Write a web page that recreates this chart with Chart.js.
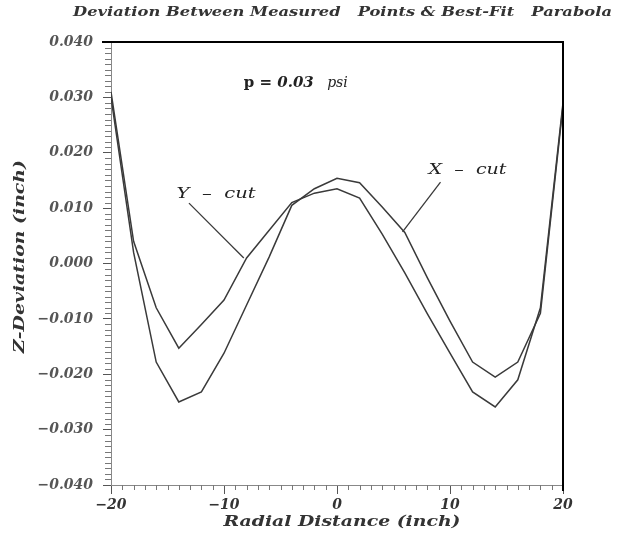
<!DOCTYPE html>
<html>
<head>
<meta charset="utf-8">
<script src="https://cdn.jsdelivr.net/npm/chart.js@4.4.1/dist/chart.umd.min.js"></script>
<style>
  html, body { margin: 0; padding: 0; background: #fff; }
  #wrap { width: 625px; height: 535px; }
</style>
</head>
<body>
<div id="wrap"><canvas id="devChart" width="625" height="535"></canvas></div>
<script>
// z-deviation from best-fit parabola, sampled every 2 inch along the radius
const radialDistance = [-20, -18, -16, -14, -12, -10, -8, -6, -4, -2, 0, 2, 4, 6, 8, 10, 12, 14, 16, 18, 20];
const xCut = [0.0300, 0.0020, -0.0178, -0.0250, -0.0232, -0.0162, -0.0075, 0.0012, 0.0105, 0.0135, 0.0154,
              0.0146, 0.0102, 0.0056, -0.0026, -0.0104, -0.0178, -0.0205, -0.0178, -0.0090, 0.0285];
const yCut = [0.0310, 0.0040, -0.0080, -0.0153, -0.0110, -0.0066, 0.0010, 0.0060, 0.0110, 0.0127, 0.0135,
              0.0118, 0.0053, -0.0017, -0.0091, -0.0162, -0.0232, -0.0259, -0.0210, -0.0080, 0.0290];

const xTicks = [-20, -10, 0, 10, 20];
const xTickLabels = ['\u221220', '\u221210', '0', '10', '20'];
const yTicks = [-0.04, -0.03, -0.02, -0.01, 0, 0.01, 0.02, 0.03, 0.04];
const yTickLabels = ['\u22120.040', '\u22120.030', '\u22120.020', '\u22120.010', '0.000', '0.010', '0.020', '0.030', '0.040'];

const serif = '"DejaVu Serif", "Liberation Serif", serif';
const ink = '#3a3a3a';

// plotter lettering is wide: stretch the glyphs to the wanted width
function wideText(ctx, text, font, x, y, width, align) {
  ctx.font = font;
  const w = ctx.measureText(text).width;
  let left = x;
  if (align === 'center') left = x - width / 2;
  if (align === 'right') left = x - width;
  ctx.save();
  ctx.translate(left, y);
  ctx.scale(width / w, 1);
  ctx.textAlign = 'left';
  ctx.fillText(text, 0, 0);
  ctx.restore();
}

// frame, minor ticks, axis titles, curve labels and heading
const plotDecor = {
  id: 'plotDecor',
  afterDraw(chart, args, opts) {
    const { ctx, chartArea: a, scales: { x, y } } = chart;
    ctx.save();

    // heavy top/right frame
    ctx.strokeStyle = '#000';
    ctx.lineWidth = 2;
    ctx.beginPath();
    ctx.moveTo(a.left - 9, a.top);
    ctx.lineTo(a.right, a.top);
    ctx.lineTo(a.right, a.bottom + 6);
    ctx.stroke();

    // minor ticks
    ctx.strokeStyle = '#777';
    ctx.lineWidth = 1;
    ctx.beginPath();
    for (let k = -40; k <= 40; k++) {
      if (k % 10 === 0) continue;
      const py = Math.round(y.getPixelForValue(k / 1000)) + 0.5;
      ctx.moveTo(a.left - 6, py);
      ctx.lineTo(a.left, py);
    }
    for (let k = -20; k <= 20; k++) {
      if (k % 10 === 0) continue;
      const px = Math.round(x.getPixelForValue(k)) + 0.5;
      ctx.moveTo(px, a.bottom);
      ctx.lineTo(px, a.bottom + 5);
    }
    ctx.stroke();

    // leader lines from the labels to their curves
    ctx.strokeStyle = ink;
    ctx.lineWidth = 1.3;
    opts.leaders.forEach(l => {
      ctx.beginPath();
      ctx.moveTo(x.getPixelForValue(l.from[0]), y.getPixelForValue(l.from[1]));
      ctx.lineTo(x.getPixelForValue(l.to[0]), y.getPixelForValue(l.to[1]));
      ctx.stroke();
    });

    ctx.fillStyle = '#222';
    ctx.textBaseline = 'middle';
    opts.notes.forEach(n => {
      wideText(ctx, n.text, 'italic 14px ' + serif,
        x.getPixelForValue(n.at[0]), y.getPixelForValue(n.at[1]), n.width, 'center');
    });

    // pressure note, drawn in pieces
    const p = opts.pressure;
    let px = x.getPixelForValue(p.at[0]);
    const py = y.getPixelForValue(p.at[1]);
    ctx.textAlign = 'left';
    p.parts.forEach(part => {
      ctx.font = part.font + ' ' + serif;
      ctx.fillText(part.text, px, py);
      px += ctx.measureText(part.text).width;
    });

    // axis titles
    ctx.fillStyle = '#333';
    const xt = opts.xTitle;
    wideText(ctx, xt.text, 'bold italic 15px ' + serif, (a.left + a.right) / 2 + xt.shift, xt.y, xt.width, 'center');
    const yt = opts.yTitle;
    ctx.save();
    ctx.translate(yt.x, (a.top + a.bottom) / 2 + yt.shift);
    ctx.rotate(-Math.PI / 2);
    wideText(ctx, yt.text, 'bold italic 14px ' + serif, 0, 0, yt.width, 'center');
    ctx.restore();

    // heading
    const head = opts.heading;
    wideText(ctx, head.text, 'bold italic 13px ' + serif, head.right, head.y, head.width, 'right');
    ctx.restore();
  }
};

new Chart(document.getElementById('devChart'), {
  type: 'line',
  data: {
    datasets: [
      {
        label: 'X - cut',
        data: radialDistance.map((r, i) => ({ x: r, y: xCut[i] })),
        borderColor: ink,
        borderWidth: 1.5,
        pointRadius: 0,
        tension: 0,
        fill: false
      },
      {
        label: 'Y - cut',
        data: radialDistance.map((r, i) => ({ x: r, y: yCut[i] })),
        borderColor: ink,
        borderWidth: 1.5,
        pointRadius: 0,
        tension: 0,
        fill: false
      }
    ]
  },
  options: {
    responsive: false,
    animation: false,
    devicePixelRatio: 1,
    layout: { padding: { top: 42, right: 62, left: 0, bottom: 0 } },
    plugins: {
      legend: { display: false },
      tooltip: { enabled: false },
      plotDecor: {
        leaders: [
          { from: [-13.1, 0.0109], to: [-8.25, 0.0010] },
          { from: [9.16, 0.0147], to: [5.8, 0.0057] }
        ],
        notes: [
          { text: 'Y  \u2013  cut', at: [-10.7, 0.0125], width: 79 },
          { text: 'X  \u2013  cut', at: [11.55, 0.0169], width: 78 }
        ],
        pressure: {
          at: [-8.25, 0.0326],
          parts: [
            { text: 'p = ', font: 'bold 15px' },
            { text: '0.03', font: 'bold italic 15px' },
            { text: '   psi', font: 'italic 14px' }
          ]
        },
        xTitle: { text: 'Radial Distance (inch)', y: 522, width: 237, shift: 5 },
        yTitle: { text: 'Z-Deviation (inch)', x: 20, width: 193, shift: -7 },
        heading: {
          text: 'Deviation Between Measured   Points & Best-Fit   Parabola',
          right: 612, y: 13, width: 539
        }
      }
    },
    scales: {
      x: {
        type: 'linear',
        min: -20,
        max: 20,
        afterBuildTicks: s => { s.ticks = xTicks.map(v => ({ value: v })); },
        afterFit: s => { s.height = 50; },
        grid: { drawOnChartArea: false, drawTicks: true, tickLength: 9, color: '#555' },
        border: { display: true, color: '#888', width: 1 },
        ticks: {
          autoSkip: false,
          maxRotation: 0,
          padding: 3,
          color: '#333',
          font: { family: serif, size: 14, style: 'italic', weight: 'bold' },
          callback: (v, i) => xTickLabels[i]
        }
      },
      y: {
        type: 'linear',
        min: -0.04,
        max: 0.04,
        afterBuildTicks: s => { s.ticks = yTicks.map(v => ({ value: v })); },
        afterFit: s => { s.width = 111; },
        grid: { drawOnChartArea: false, drawTicks: true, tickLength: 8, color: '#555' },
        border: { display: true, color: '#888', width: 1 },
        ticks: {
          autoSkip: false,
          padding: 10,
          color: '#555',
          font: { family: serif, size: 14, style: 'italic', weight: 'bold' },
          callback: (v, i) => yTickLabels[i]
        }
      }
    }
  },
  plugins: [plotDecor]
});
</script>
</body>
</html>
